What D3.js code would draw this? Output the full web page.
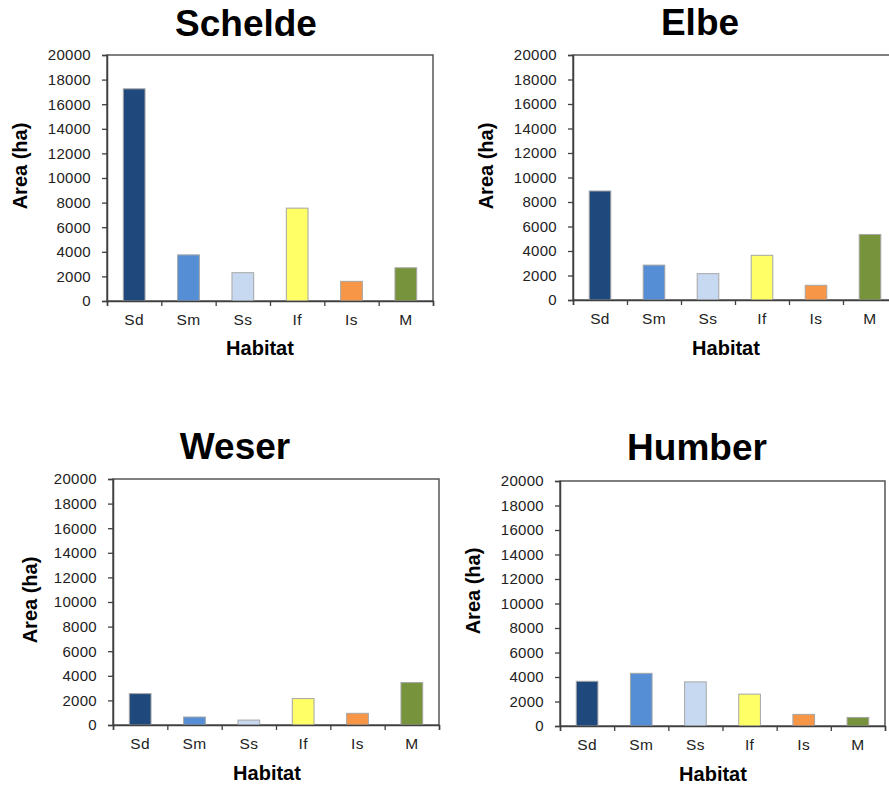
<!DOCTYPE html>
<html>
<head>
<meta charset="utf-8">
<script src="https://cdn.jsdelivr.net/npm/d3@7"></script>
<style>
  html, body { margin: 0; padding: 0; background: #fff; }
  svg { display: block; font-family: "Liberation Sans", Arial, sans-serif; }
</style>
</head>
<body>
<svg id="chart" width="889" height="785"></svg>
<script>
// ---- data ----
const categories = ["Sd", "Sm", "Ss", "If", "Is", "M"];
const barColors = ["#1F487C", "#558ED5", "#C6D9F1", "#FFFF66", "#F79646", "#77933C"];
const schelde = [17250, 3750, 2300, 7550, 1600, 2700];
const elbe    = [8900, 2850, 2150, 3650, 1200, 5350];
const weser   = [2550, 650, 400, 2150, 950, 3450];
const humber  = [3650, 4300, 3600, 2600, 950, 700];
const yTicks  = [0, 2000, 4000, 6000, 8000, 10000, 12000, 14000, 16000, 18000, 20000];
const titles  = ["Schelde", "Elbe", "Weser", "Humber"];
const xTitle  = "Habitat";
const yTitle  = "Area (ha)";

// ---- layout ----
const panels = [
  { name: titles[0], values: schelde, L: 107, R: 433, T: 55, B: 301, tx: 246, ty: 36, ylx: 20, yly: 166, hx: 260, hy: 355 },
  { name: titles[1], values: elbe,    L: 573, R: 897, T: 55, B: 300, tx: 700, ty: 35, ylx: 486, yly: 166, hx: 726, hy: 355 },
  { name: titles[2], values: weser,   L: 113, R: 439, T: 479, B: 725, tx: 235, ty: 459, ylx: 30, yly: 600, hx: 267, hy: 780 },
  { name: titles[3], values: humber,  L: 560, R: 885, T: 481, B: 726, tx: 697, ty: 460, ylx: 473, yly: 591, hx: 713, hy: 781 }
];

const svg = d3.select("#chart");

panels.forEach(p => {
  const g = svg.append("g");
  const x = d3.scaleBand().domain(categories).range([p.L, p.R]).paddingInner(0.6).paddingOuter(0.3);
  const xb = d3.scaleLinear().domain([0, categories.length]).range([p.L, p.R]);
  const y = d3.scaleLinear().domain([0, 20000]).range([p.B, p.T]);

  // plot border
  g.append("rect")
    .attr("x", p.L).attr("y", p.T)
    .attr("width", p.R - p.L).attr("height", p.B - p.T)
    .attr("fill", "none").attr("stroke", "#4a4a4a").attr("stroke-width", 1.4);

  // bars
  g.selectAll("rect.bar").data(p.values).enter().append("rect")
    .attr("class", "bar")
    .attr("x", (d, i) => x(categories[i]))
    .attr("width", x.bandwidth())
    .attr("y", d => y(d))
    .attr("height", d => y(0) - y(d))
    .attr("fill", (d, i) => barColors[i])
    .attr("stroke", "#a6a6a6").attr("stroke-width", 1);

  // y axis
  const ya = g.append("g").attr("transform", `translate(${p.L},0)`)
    .call(d3.axisLeft(y).tickValues(yTicks).tickSize(5).tickPadding(11).tickFormat(d3.format("d")));
  ya.select(".domain").attr("stroke", "#404040").attr("stroke-width", 1.5);
  ya.selectAll(".tick line").attr("stroke", "#404040").attr("stroke-width", 1.3);
  ya.selectAll("text").attr("font-size", 15).attr("fill", "#222").attr("letter-spacing", "0.3px")
    .attr("font-family", "'Liberation Sans', Arial, sans-serif");

  // x axis boundary ticks
  const xa = g.append("g").attr("transform", `translate(0,${p.B})`)
    .call(d3.axisBottom(xb).tickValues(d3.range(categories.length + 1)).tickSize(5).tickFormat(""));
  xa.select(".domain").attr("stroke", "#404040").attr("stroke-width", 1.5);
  xa.selectAll(".tick line").attr("stroke", "#404040").attr("stroke-width", 1.3);

  // x category labels
  const xl = g.append("g").attr("transform", `translate(0,${p.B})`)
    .call(d3.axisBottom(x).tickSize(0).tickPadding(13));
  xl.select(".domain").remove();
  xl.selectAll("text").attr("font-size", 15.5).attr("fill", "#222").attr("letter-spacing", "0.4px")
    .attr("font-family", "'Liberation Sans', Arial, sans-serif");

  // titles
  g.append("text").attr("x", p.tx).attr("y", p.ty)
    .attr("text-anchor", "middle").attr("font-size", 37).attr("font-weight", "bold")
    .attr("fill", "#000").text(p.name);

  g.append("text").attr("transform", `translate(${p.ylx + 7},${p.yly}) rotate(-90)`)
    .attr("text-anchor", "middle").attr("font-size", 20).attr("font-weight", "bold")
    .attr("fill", "#000").text(yTitle);

  g.append("text").attr("x", p.hx).attr("y", p.hy)
    .attr("text-anchor", "middle").attr("font-size", 20).attr("font-weight", "bold")
    .attr("fill", "#000").text(xTitle);
});
</script>
</body>
</html>
